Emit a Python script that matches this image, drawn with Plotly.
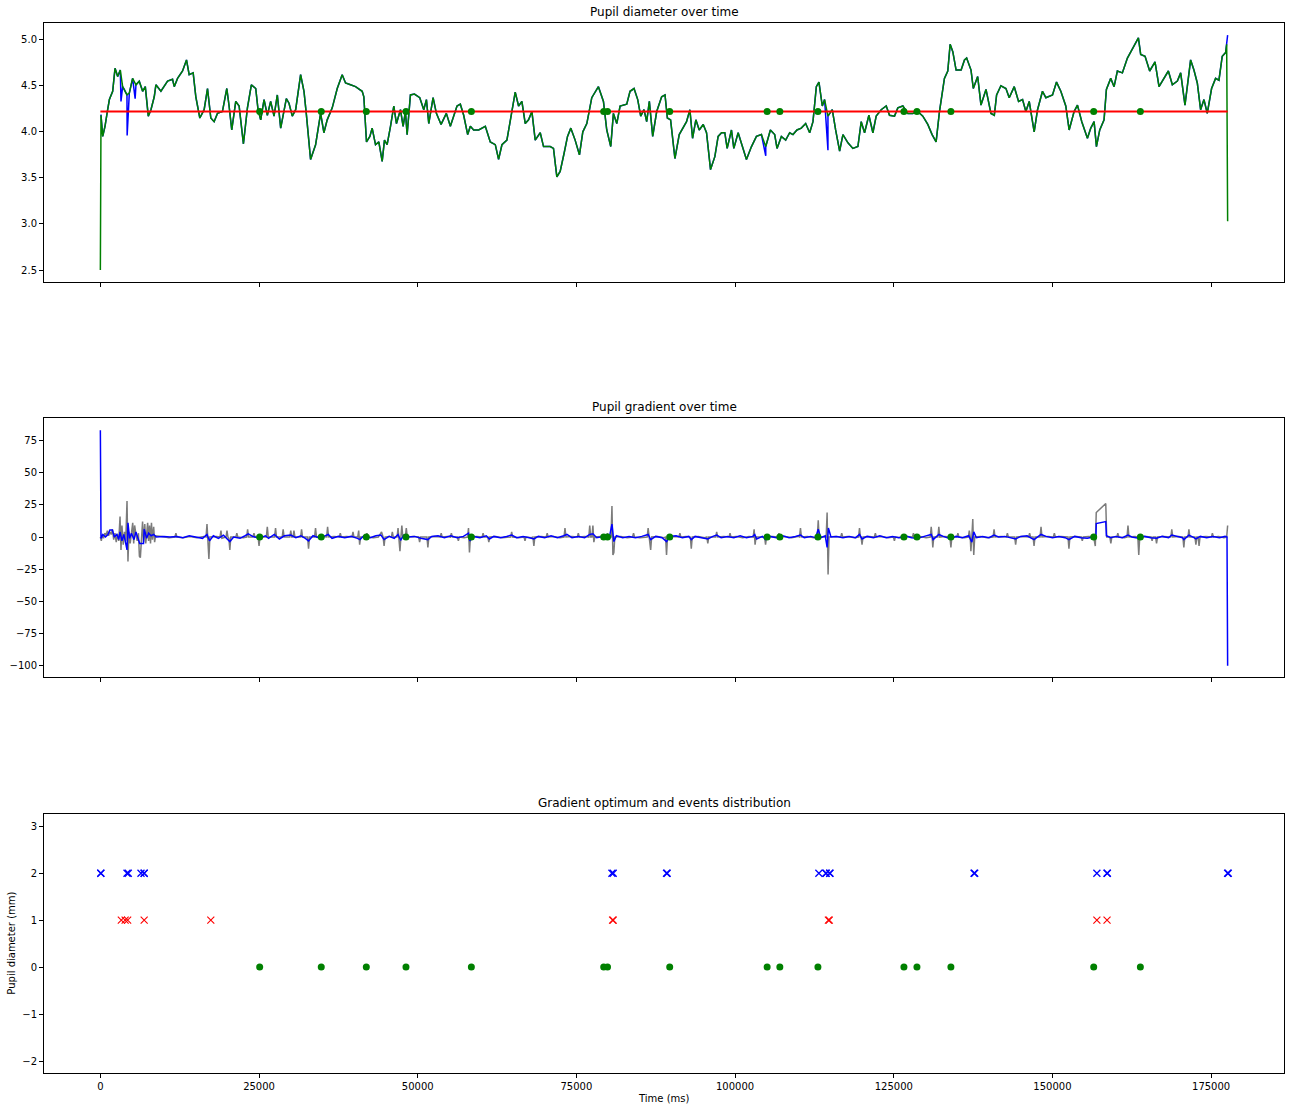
import plotly.graph_objects as go

# ---------------- data (time in ms) ----------------
# smoothed pupil diameter (green) : (time_ms, mm)
diam_smooth = [
    (0, 2.50), (100, 4.18), (370, 3.95), (730, 4.06), (1150, 4.24), (1420, 4.35), (1940, 4.44),
    (2310, 4.69), (2730, 4.60), (3140, 4.67), (3510, 4.49), (3770, 4.46), (4190, 4.40), (4560, 4.42),
    (5080, 4.58), (5610, 4.51), (6130, 4.55), (6660, 4.44), (7080, 4.49), (7550, 4.17), (7970, 4.24),
    (8490, 4.38), (8750, 4.51), (9540, 4.44), (10590, 4.55), (11370, 4.57), (11640, 4.49), (12160, 4.58),
    (12950, 4.66), (13570, 4.78), (13990, 4.62), (14620, 4.64), (15040, 4.38), (15670, 4.15), (16350, 4.24),
    (16880, 4.47), (17400, 4.15), (17920, 4.11), (18450, 4.20), (19230, 4.22), (19920, 4.47), (20280, 4.28),
    (20700, 4.02), (21330, 4.33), (21860, 4.28), (22540, 3.87), (23170, 4.26), (23790, 4.51), (24480, 4.47),
    (24840, 4.24), (25260, 4.13), (25790, 4.35), (26310, 4.18), (26830, 4.33), (27360, 4.17), (27880, 4.40),
    (28410, 4.04), (29300, 4.36), (29720, 4.31), (30240, 4.17), (30770, 4.24), (31550, 4.62), (32080, 4.44),
    (32440, 4.20), (33120, 3.70), (33910, 3.86), (34700, 4.20), (35220, 3.99), (35740, 4.13), (36530, 4.26),
    (37320, 4.47), (38100, 4.62), (38630, 4.53), (39410, 4.51), (40200, 4.49), (41250, 4.44), (41510, 4.38),
    (41930, 3.89), (42460, 3.95), (42820, 4.04), (43350, 3.86), (43870, 3.89), (44400, 3.68), (44760, 3.91),
    (45180, 3.86), (45710, 4.06), (46230, 4.28), (46650, 4.09), (47280, 4.24), (47700, 4.06), (48060, 4.22),
    (48330, 3.97), (48850, 4.40), (49480, 4.41), (50320, 4.37), (50950, 4.24), (51370, 4.35), (51740, 4.09),
    (52420, 4.37), (52940, 4.20), (53680, 4.08), (54510, 4.20), (55140, 4.06), (56190, 4.28), (56710, 4.30),
    (57240, 4.18), (57870, 3.97), (58290, 4.06), (58810, 4.02), (59600, 4.02), (60650, 4.06), (61430, 3.89),
    (62220, 3.86), (62740, 3.70), (63270, 3.86), (64050, 3.91), (64840, 4.24), (65360, 4.43), (65890, 4.28),
    (66410, 4.33), (66940, 4.09), (67460, 4.13), (67990, 4.22), (68510, 3.91), (69300, 3.99), (69820, 3.84),
    (70870, 3.84), (71390, 3.82), (71920, 3.51), (72440, 3.57), (73070, 3.77), (73600, 3.95), (74120, 4.04),
    (74800, 3.91), (75480, 3.75), (76010, 4.00), (76640, 4.09), (77420, 4.37), (78470, 4.49), (79260, 4.33),
    (79780, 4.02), (80410, 3.84), (80830, 4.20), (81360, 4.09), (81880, 4.28), (82930, 4.30), (83450, 4.44),
    (84080, 4.47), (84660, 4.35), (85130, 4.17), (85650, 4.24), (86070, 4.11), (86490, 4.33), (87020, 3.95),
    (87650, 4.22), (88430, 4.38), (88960, 4.40), (89330, 4.15), (89840, 4.13), (90520, 3.71), (91200, 3.97),
    (91830, 4.04), (92350, 4.11), (92880, 4.24), (93300, 3.93), (93820, 4.13), (94350, 4.02), (94980, 4.08),
    (95500, 3.99), (96130, 3.59), (96810, 3.73), (97330, 3.95), (97860, 3.99), (98380, 3.99), (98750, 3.82),
    (99430, 4.02), (99800, 3.82), (100480, 3.99), (101160, 3.84), (101790, 3.70), (102580, 3.84), (103360, 3.95),
    (104150, 3.97), (104830, 3.84), (105560, 4.02), (106240, 3.97), (106610, 3.82), (107290, 3.95), (107970, 3.91),
    (108600, 3.99), (109120, 3.97), (109750, 4.02), (110430, 4.04), (111120, 4.09), (111750, 3.99), (112270, 4.11),
    (112800, 4.49), (113210, 4.54), (113740, 4.28), (114100, 4.35), (114630, 4.17), (115310, 4.24), (115840, 4.02),
    (116470, 3.79), (116990, 3.97), (117780, 3.88), (118560, 3.82), (119350, 3.84), (119870, 4.11), (120400, 3.99),
    (121080, 4.18), (121710, 3.99), (122230, 4.17), (123020, 4.24), (123810, 4.28), (124330, 4.18), (125120, 4.17),
    (125640, 4.26), (126430, 4.28), (127220, 4.20), (128000, 4.20), (128790, 4.22), (129580, 4.17), (130360, 4.08),
    (131040, 3.97), (131670, 3.89), (132200, 4.22), (132980, 4.58), (133510, 4.66), (133880, 4.95), (134300, 4.87),
    (134820, 4.67), (135610, 4.67), (136140, 4.78), (136480, 4.80), (137170, 4.67), (137530, 4.47), (138220, 4.60),
    (138740, 4.29), (139530, 4.46), (140310, 4.20), (140840, 4.18), (141200, 4.40), (141880, 4.50), (142670, 4.47),
    (143190, 4.37), (143980, 4.49), (144660, 4.33), (145290, 4.35), (145810, 4.22), (146340, 4.33), (147120, 4.00),
    (147650, 4.24), (148430, 4.44), (148960, 4.37), (150010, 4.40), (150640, 4.54), (151320, 4.44), (152100, 4.28),
    (152630, 4.02), (153410, 4.22), (153940, 4.29), (154620, 4.11), (155510, 3.93), (156040, 4.04), (156560, 4.11),
    (156930, 3.84), (157450, 4.02), (158130, 4.13), (158500, 4.46), (159180, 4.58), (159710, 4.49), (160230, 4.66),
    (161020, 4.64), (161810, 4.80), (162330, 4.87), (162860, 4.93), (163540, 5.02), (163900, 4.84), (164590, 4.82),
    (165320, 4.66), (166160, 4.76), (166790, 4.49), (167580, 4.58), (168260, 4.66), (168890, 4.51), (169680, 4.55),
    (170200, 4.64), (170880, 4.29), (171770, 4.78), (172290, 4.67), (172820, 4.53), (173340, 4.24), (173870, 4.35),
    (174390, 4.20), (175070, 4.47), (175700, 4.58), (176230, 4.56), (176750, 4.82), (177280, 4.86), (177450, 4.95),
    (177600, 3.03),
]
# raw diameter (blue): first / last samples and spikes where it departs from the smoothed trace
raw_start = (0, 4.18)
raw_end = (177600, 5.05)
raw_spikes = [(3250, 4.33), (4220, 3.96), (5480, 4.36), (104830, 3.74), (114630, 3.80)]
baseline_mm = 4.221

# raw gradient (grey): (time_ms, value)
grad_raw = [
    (0, 0), (150, -3), (300, 2), (500, -1), (700, 3), (900, 1), (1100, 5), (1300, 1), (1500, 4), (1700, 2),
    (1900, 6), (2100, -2), (2300, 3), (2500, -4), (2700, 2), (2900, -3), (3100, 16), (3250, -10), (3400, 9),
    (3600, -6), (3800, 4), (4000, -3), (4200, 28), (4350, -19), (4500, 4), (4700, -5), (4900, 3), (5100, 11),
    (5250, -5), (5400, 9), (5600, 2), (5800, -3), (6000, 3), (6150, -15), (6300, -16), (6450, -2), (6650, 12),
    (6800, -4), (7000, 10), (7150, -5), (7300, 3), (7450, 11), (7600, -3), (7750, 9), (7900, -5), (8050, 11),
    (8200, -2), (8400, 8), (8550, -4), (8700, 1),
    (9700, 0.5), (10800, -0.5), (11750, 0), (11900, 3), (12050, 0), (13000, -0.5), (14100, 0.5), (15200, -0.5),
    (16300, 0.5), (16650, 0), (16800, 10), (16950, -3), (17100, -17), (17250, 0), (18300, 0.5), (18850, 0),
    (19000, 5), (19150, -1), (19800, 0), (19950, 5), (20100, 0), (20250, -1), (20400, -10), (20550, 0),
    (21350, 0), (21500, 3), (21650, 0), (22500, -0.5), (23050, 0), (23200, 6), (23350, 0), (24050, 0),
    (24200, 3), (24350, 0), (24850, 0), (25000, -7), (25150, 0), (26150, 0), (26300, 8), (26450, 0),
    (27450, 0), (27600, 7), (27750, 0), (28650, 0), (28800, 6), (28950, 0), (29850, 0), (30000, 5), (30150, 0),
    (30350, 0), (30500, 5), (30650, 0), (31550, 0), (31700, 6), (31850, 0), (32650, 0), (32800, -9), (32950, 0),
    (33750, 0), (33900, 7), (34050, 0), (34700, 0.5), (35650, 0), (35800, 8), (35950, 0), (36800, 0.5),
    (37650, 0), (37800, 3), (37950, 0), (38800, 0.5), (39650, 0), (39800, 4), (39950, 0), (40550, 0),
    (40700, 5), (40850, -6), (41000, 0), (41850, 0), (42000, 3), (42150, 0), (43000, -0.5), (43800, 0),
    (44300, 4), (44550, 0), (44700, -7), (44850, 0), (45500, 0.5), (45850, 0), (46000, 4), (46150, 0),
    (46750, 0), (46900, 7), (47050, -3), (47200, -11), (47350, 0), (47500, 9), (47650, 0), (48050, 0),
    (48200, 7), (48350, 0), (49300, 0.5), (50150, 0), (50300, -4), (50450, 0), (51450, 0), (51600, -8),
    (51750, 0), (52700, 0.5), (53550, 0), (53700, 3), (53850, 0), (54700, 0.5), (55150, 0), (55300, 3),
    (55450, 0), (56250, 0), (56400, -3), (56550, 0), (57300, -0.5), (57850, 0), (58000, 7), (58150, -12),
    (58300, 0), (59300, 0.5), (60150, 0), (60300, 3), (60450, 0), (61050, 0), (61200, -4), (61350, 0),
    (62300, 0.5), (63300, -0.5), (64650, 0), (64800, 4), (64950, 0), (65900, -0.5), (66750, 0), (66900, -3),
    (67050, 0), (67900, -0.5), (68150, 0), (68300, -7), (68450, 0), (69400, 0.5), (70250, 0), (70400, 3),
    (70550, 0), (71400, 0.5), (72400, -0.5), (73050, 0), (73200, 7), (73350, 0), (74300, 0.5), (75150, 0),
    (75300, 3), (75450, 0), (76300, 0.5), (76950, 0), (77100, 9), (77250, 0), (77450, 0), (77600, 9),
    (77750, -4), (77900, 0), (78900, 0.5), (79750, 0), (79900, 3), (80050, 0), (80450, 0), (80600, 24),
    (80750, -14), (80900, -12), (81050, 0), (82000, 0.5), (83000, -0.5), (83850, 0), (84000, 3), (84150, 0),
    (85000, -0.5), (86150, 0), (86300, 7), (86450, 0), (86550, 0), (86700, -10), (86850, 0), (87800, 0.5),
    (88800, -0.5), (89050, 0), (89200, -14), (89350, 0), (90300, 0.5), (91150, 0), (91300, 3), (91450, 0),
    (92300, 0.5), (92950, 0), (93100, -9), (93250, 0), (94200, 0.5), (95200, -0.5), (95550, 0), (95700, -5),
    (95850, 0), (96950, 0), (97100, 4), (97250, 0), (98200, 0.5), (99050, 0), (99200, 3), (99350, 0),
    (100200, 0.5), (101200, -0.5), (102200, 0.5), (102850, 0), (103000, 6), (103150, -6), (103300, 0),
    (104650, 0), (104800, -6), (104950, 0), (105900, 0.5), (106750, 0), (106900, 3), (107050, 0),
    (107900, 0.5), (108900, -0.5), (109900, 0.5), (110150, 0), (110300, 7), (110450, 0), (111400, 0.5),
    (112400, -0.5), (112950, 0), (113100, 13), (113250, -2), (113400, 0), (114350, 0), (114500, 19),
    (114650, -29), (114800, 0), (115800, 0.5), (116650, 0), (116800, 3), (116950, 0), (117800, 0.5),
    (118800, -0.5), (119450, 0), (119600, 7), (119750, 0), (119850, 0), (120000, -6), (120150, 0),
    (121100, 0.5), (121950, 0), (122100, 3), (122250, 0), (123100, 0.5), (124100, -0.5), (124950, 0),
    (125100, -3), (125250, 0), (126100, -0.5), (127100, 0.5), (127950, 0), (128100, 3), (128250, 0),
    (129100, 0.5), (130100, -0.5), (130750, 0), (130900, 8), (131050, 0), (131150, -8), (131300, 0),
    (131950, 0), (132100, 8), (132250, 0), (133000, 0.5), (133850, 0), (134000, -8), (134150, 0),
    (134950, 0), (135100, 3), (135250, 0), (136100, -0.5), (136750, 0), (136900, 5), (137050, 0),
    (137150, -11), (137300, 0), (137450, 14), (137600, -14), (137750, 0), (138700, 0.5), (139700, -0.5),
    (140650, 0), (140800, 6), (140950, 0), (141900, 0.5), (142750, 0), (142900, 3), (143050, 0), (144050, 0),
    (144200, -6), (144350, 0), (145300, 0.5), (146250, 0), (146400, 3), (146550, 0), (146950, 0), (147100, -7),
    (147250, 0), (148050, 0), (148200, 8), (148350, 0), (149300, 0.5), (150150, 0), (150300, 3), (150450, 0),
    (151300, 0.5), (152450, 0), (152600, -9), (152750, 0), (153700, 0.5), (154550, 0), (154700, -3),
    (154850, 0), (155700, 0.5), (156500, 0), (156750, -7), (156900, 19), (158400, 26), (158550, 0),
    (159050, 0), (159200, -5), (159350, 0), (160150, 0), (160300, 3), (160450, 0), (161300, -0.5),
    (161750, 0), (161900, 9), (162050, 0), (163000, 0.5), (163450, 0), (163600, -14), (163750, 0),
    (164700, 0.5), (165550, 0), (165700, -3), (165850, 0), (166250, 0), (166400, -5), (166550, 0),
    (167500, 0.5), (168650, 0), (168800, 6), (168950, 0), (169900, 0.5), (170550, 0), (170700, -8),
    (170850, 0), (171350, 0), (171500, 6), (171650, 0), (172450, 0), (172600, -6), (172750, 0), (172950, 0),
    (173100, -7), (173250, 0), (174200, 0.5), (175050, 0), (175200, 3), (175350, 0), (176200, 0.5),
    (177000, -0.5), (177450, 0), (177600, 9),
]
# smoothed gradient (blue): (time_ms, value)
grad_smooth = [
    (0, 83), (100, -1), (400, 2), (800, 0), (1200, 2), (1500, 5.5), (1900, 5.5), (2200, 0), (2600, 2), (2900, -2),
    (3100, 4), (3400, -3), (3700, 2), (4000, -4), (4200, -10), (4350, 11), (4600, -1), (4900, 3), (5300, -2),
    (5600, 4), (5900, -1), (6200, -5), (6800, -5), (6900, 6), (7300, -1), (7600, 3), (8000, 1), (8400, 2), (8800, 0),
    (10000, 0.5), (11000, 0), (12000, 0.5), (13000, -0.5), (14000, 1), (15000, 0), (16100, -1), (16800, 2),
    (17200, -3), (17800, 1), (18600, -1), (19400, 1.5), (20400, -3.5), (21000, 0), (22000, -1), (22800, 1),
    (23300, 2.5), (24000, 0.5), (25000, -1), (26000, 1), (26500, -1), (27400, 2), (28200, -1.5), (29000, 1),
    (30000, 1.5), (30800, -0.5), (31600, 1), (32300, -1), (32800, -3), (33500, 1), (34400, -0.5), (35200, 0.5),
    (35900, 2), (36500, -1), (37500, 0.5), (38500, -0.5), (39500, 0.5), (40500, -1), (40900, -2), (41500, 1),
    (42500, -0.5), (43400, 1), (44200, 1.5), (44700, -2), (45500, 0.5), (46300, -1), (46900, 2), (47300, -2.5),
    (47800, 1.5), (48500, 0), (49500, 0.5), (50500, -1), (51600, -2), (52200, 0.5), (53200, 1), (54200, -0.5),
    (55200, 1), (56200, -0.5), (57200, 0.5), (58000, 3), (58200, -3), (58800, 0.5), (59800, -0.5), (60800, 1),
    (61300, -1.5), (62000, 0.5), (63000, -0.5), (64000, 0.5), (64800, 1.5), (65600, -0.5), (66600, 0.5),
    (67600, -0.5), (68300, -1.5), (69000, 0.5), (70000, -0.5), (71000, 1), (72000, -0.5), (73000, 1), (73500, 2),
    (74300, -0.5), (75300, 0.5), (76300, -0.5), (77100, 2), (77600, 2.5), (78200, -0.5), (79200, 0.5), (80200, 0),
    (80600, 10), (80900, -3.5), (81300, 1), (82300, -0.5), (83300, 0.5), (84300, -0.5), (85300, 0.5), (86300, 2),
    (86700, -2), (87500, 0.5), (88500, -0.5), (89200, -3.5), (89700, 0.5), (90700, 1), (91700, -0.5), (92700, 0.5),
    (93100, -2), (93700, 0.5), (94700, -0.5), (95700, -1.5), (96500, 0.5), (97100, 1.5), (97800, -0.5), (98800, 0.5),
    (99800, -0.5), (100800, 1), (101800, -0.5), (102800, 0.5), (103100, 2), (103400, -1.5), (104300, 0.5),
    (104800, -2), (105500, 0.5), (106500, -0.5), (107500, 1), (108500, -0.5), (109500, 0.5), (110300, 1.5),
    (110900, -0.5), (111900, 0.5), (112700, -0.5), (113100, 6), (113500, -0.5), (114200, 1), (114500, -8),
    (114700, 7), (115100, 0), (116000, 0.5), (117000, -0.5), (118000, 0.5), (119000, -0.5), (119600, 2),
    (120000, -1.5), (120800, 0.5), (121800, -0.5), (122800, 1), (123800, -0.5), (124800, 0.5), (125800, -0.5),
    (126800, 1), (127800, -0.5), (128800, -1), (129800, 0.5), (130900, 2), (131200, -2), (132100, 2), (132800, 0.5),
    (134000, -1.5), (134800, 0.5), (135800, -0.5), (136800, 1), (137300, -4), (137600, 4), (138000, -0.5),
    (139000, 0.5), (140000, -0.5), (140800, 1.5), (141500, 0), (142500, 0.5), (143500, -0.5), (144200, -1.5),
    (145000, 0.5), (146000, 1), (147100, -2), (147800, 0.5), (148200, 2), (149000, 0.5), (150000, -0.5),
    (151000, 0.5), (152000, -0.5), (152600, -2), (153500, 0.5), (154500, -0.5), (155500, -1), (156400, 0),
    (156850, 0), (156900, 10.5), (158400, 12), (158500, 1), (159200, -0.5), (160000, 0.5), (161000, -0.5),
    (161900, 1.5), (162500, 0), (163600, -1), (164500, 0.5), (165500, -0.5), (166400, -1), (167300, 0.5),
    (168300, -0.5), (168800, 1.5), (169500, 0.5), (170500, -0.5), (170700, -2), (171500, 1.5), (172300, -0.5),
    (172600, -1.5), (173300, 0.5), (174300, -0.5), (175300, 0.5), (176300, -0.5), (177200, 0.5), (177500, 0),
    (177600, -100),
]

event_times = [25100, 34800, 41900, 48150, 58450, 79300, 79900, 89700, 105050, 107050, 113050,
               126600, 128650, 134000, 156500, 163850]
optimum_times = [70, 70, 4200, 4400, 6400, 6900, 6900, 80600, 80800, 89200, 89300, 113200, 114300, 114350,
                 114900, 114950, 137650, 137750, 157000, 158600, 158650, 177600, 177700]
onset_times = [3300, 3900, 4300, 6900, 17400, 80700, 80800, 114700, 114850, 157000, 158600]
row_optimum, row_onset, row_event = 2, 1, 0

titles = ["Pupil diameter over time", "Pupil gradient over time", "Gradient optimum and events distribution"]
x_ticks = [0, 25000, 50000, 75000, 100000, 125000, 150000, 175000]

# ---------------- build ----------------
ds_t = [p[0] for p in diam_smooth]
ds_v = [p[1] for p in diam_smooth]
raw_pts = sorted([raw_start] + diam_smooth[1:-2] + raw_spikes + [raw_end])
raw_t = [p[0] for p in raw_pts]
raw_v = [p[1] for p in raw_pts]

FONT = "DejaVu Sans"
fig = go.Figure()

# Top: diameter
fig.add_trace(go.Scatter(x=raw_t, y=raw_v, mode="lines", line=dict(color="blue", width=1.5),
                         xaxis="x", yaxis="y"))
fig.add_trace(go.Scatter(x=ds_t, y=ds_v, mode="lines", line=dict(color="green", width=1.5),
                         xaxis="x", yaxis="y"))
fig.add_trace(go.Scatter(x=[0, ds_t[-1]], y=[baseline_mm, baseline_mm], mode="lines",
                         line=dict(color="red", width=2), xaxis="x", yaxis="y"))
fig.add_trace(go.Scatter(x=event_times, y=[baseline_mm] * len(event_times), mode="markers",
                         marker=dict(color="green", size=7), xaxis="x", yaxis="y"))

# Middle: gradient
fig.add_trace(go.Scatter(x=[p[0] for p in grad_raw], y=[p[1] for p in grad_raw], mode="lines",
                         line=dict(color="rgba(90,90,90,0.8)", width=1.5), xaxis="x2", yaxis="y2"))
fig.add_trace(go.Scatter(x=[p[0] for p in grad_smooth], y=[p[1] for p in grad_smooth], mode="lines",
                         line=dict(color="blue", width=1.5), xaxis="x2", yaxis="y2"))
fig.add_trace(go.Scatter(x=event_times, y=[0] * len(event_times), mode="markers",
                         marker=dict(color="green", size=7), xaxis="x2", yaxis="y2"))

# Bottom: distribution
fig.add_trace(go.Scatter(x=optimum_times, y=[row_optimum] * len(optimum_times), mode="markers",
                         marker=dict(symbol="x-thin", size=7, line=dict(color="blue", width=1.3)),
                         xaxis="x3", yaxis="y3"))
fig.add_trace(go.Scatter(x=onset_times, y=[row_onset] * len(onset_times), mode="markers",
                         marker=dict(symbol="x-thin", size=7, line=dict(color="red", width=1.1)),
                         xaxis="x3", yaxis="y3"))
fig.add_trace(go.Scatter(x=event_times, y=[row_event] * len(event_times), mode="markers",
                         marker=dict(color="green", size=7), xaxis="x3", yaxis="y3"))

axis_common = dict(showline=True, mirror=True, linecolor="black", linewidth=1, showgrid=False,
                   zeroline=False, ticks="outside", ticklen=4, tickcolor="black", tickwidth=1,
                   tickfont=dict(family=FONT, size=10, color="black"))
xr = [-8880, 186480]
doms = [[0.7536, 1.0], [0.3774, 0.6235], [0.0, 0.2464]]

fig.update_layout(
    width=1295, height=1111, margin=dict(l=43, r=10, t=23, b=38),
    plot_bgcolor="white", paper_bgcolor="white", showlegend=False,
    font=dict(family=FONT, size=10, color="black"),
    xaxis=dict(axis_common, domain=[0, 1], anchor="y", range=xr, tickvals=x_ticks, showticklabels=False),
    yaxis=dict(axis_common, domain=doms[0], anchor="x", range=[2.373, 5.181], tick0=2.5, dtick=0.5,
               tickformat=".1f"),
    xaxis2=dict(axis_common, domain=[0, 1], anchor="y2", range=xr, tickvals=x_ticks, showticklabels=False),
    yaxis2=dict(axis_common, domain=doms[1], anchor="x2", range=[-108.5, 92.2], tick0=0, dtick=25),
    xaxis3=dict(axis_common, domain=[0, 1], anchor="y3", range=xr, tickvals=x_ticks, tickformat="d"),
    yaxis3=dict(axis_common, domain=doms[2], anchor="x3", range=[-2.255, 3.255], tick0=0, dtick=1),
)

annotations = []
for title, dom in zip(titles, doms):
    annotations.append(dict(text=title, xref="paper", yref="paper", x=0.5, y=dom[1], xanchor="center",
                            yanchor="bottom", yshift=2, showarrow=False,
                            font=dict(family=FONT, size=12, color="black")))
annotations.append(dict(text="Pupil diameter (mm)", xref="paper", yref="paper", x=-0.0258, y=0.1232,
                        xanchor="center", yanchor="middle", textangle=-90, showarrow=False,
                        font=dict(family=FONT, size=10, color="black")))
annotations.append(dict(text="Time (ms)", xref="paper", yref="paper", x=0.5, y=0, xanchor="center",
                        yanchor="middle", yshift=-25, showarrow=False,
                        font=dict(family=FONT, size=10, color="black")))
fig.update_layout(annotations=annotations)

fig.write_html("out.html")
